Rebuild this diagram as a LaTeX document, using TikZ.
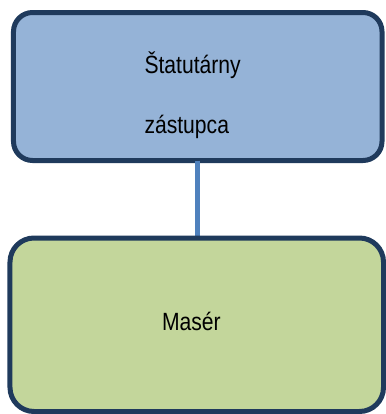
\documentclass[tikz,border=0pt]{standalone}
\usepackage{fontspec}
\setmainfont{Liberation Sans}
\usepackage{graphicx}
\definecolor{boxline}{HTML}{1F3A5C}
\definecolor{topfill}{HTML}{95B3D7}
\definecolor{botfill}{HTML}{C3D69B}
\definecolor{connline}{HTML}{4F81BD}
\newcommand{\tallt}[1]{\scalebox{1}[1.18]{#1}}
\begin{document}
\begin{tikzpicture}[x=1bp,y=-1bp,
  orgbox/.style={draw=boxline,line width=5bp,rectangle,inner sep=0pt,outer sep=0pt},
  label/.style={inner sep=0pt,outer sep=0pt,anchor=base west,font=\fontsize{21.2}{25}\selectfont},
  conn/.style={draw=connline,line width=5bp}]
\useasboundingbox (0,0) rectangle (386,414);
\node[orgbox,fill=topfill,rounded corners=19bp,minimum width=368.5bp,minimum height=148bp] (box1) at (197.75,86.5) {};
\draw[conn] (box1.south) -- (box1.south |- 0,238) coordinate (c1);
\node[orgbox,fill=botfill,rounded corners=24bp,minimum width=373.5bp,minimum height=173.5bp] (box2) at (196.75,324.75) {};
\node[label] (t1) at (144.5,73) {\tallt{Štatutárny}};
\node[label] (t2) at (144.5,133) {\tallt{zástupca}};
\node[label] (t3) at (162,330) {\tallt{Masér}};
\end{tikzpicture}
\end{document}
